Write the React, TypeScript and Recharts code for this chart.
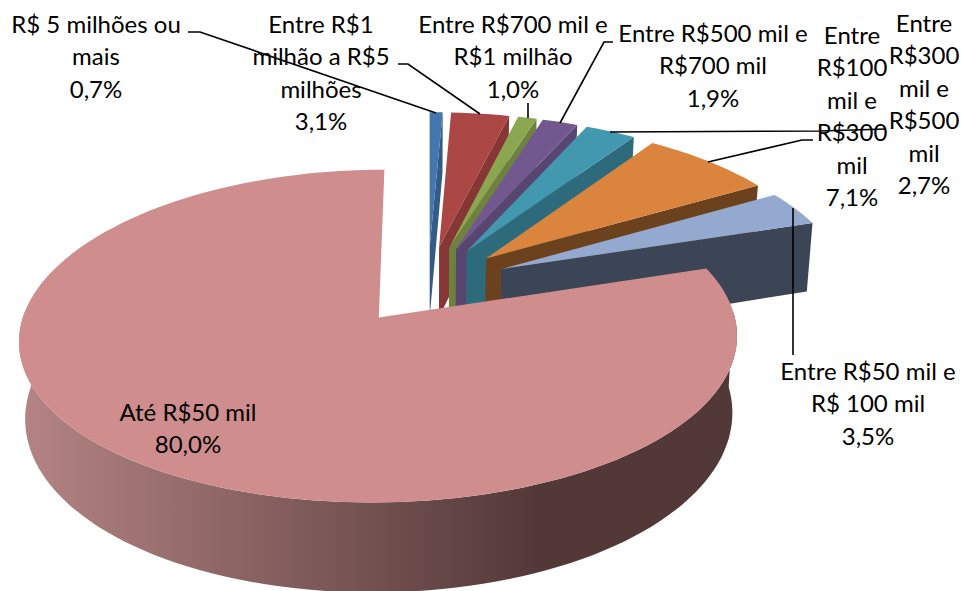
import { PieChart, Pie } from "recharts";

const categories = [
  "R$ 5 milhões ou mais",
  "Entre R$1 milhão a R$5 milhões",
  "Entre R$700 mil e R$1 milhão",
  "Entre R$500 mil e R$700 mil",
  "Entre R$300 mil e R$500 mil",
  "Entre R$100 mil e R$300 mil",
  "Entre R$50 mil e R$ 100 mil",
  "Até R$50 mil",
];
const shares = [0.7, 3.1, 1.0, 1.9, 2.7, 7.1, 3.5, 80.0];
const shareLabels = ["0,7%", "3,1%", "1,0%", "1,9%", "2,7%", "7,1%", "3,5%", "80,0%"];

const topColors = ["#4477ad", "#aa4644", "#8ba650", "#71588f", "#4198af", "#db843d", "#93a9cf", "#cf8e8d"];
const wallColors = ["#345b85", "#863735", "#6d823f", "#584570", "#2c6a7c", "#6c421e", "#3b4556", "url(#pinkWall)"];

// how each label wraps, where its centre sits, first baseline and leader line
const labelLines = [
  ["R$ 5 milhões ou", "mais"],
  ["Entre R$1", "milhão a R$5", "milhões"],
  ["Entre R$700 mil e", "R$1 milhão"],
  ["Entre R$500 mil e", "R$700 mil"],
  ["Entre", "R$300", "mil e", "R$500", "mil"],
  ["Entre", "R$100", "mil e", "R$300", "mil"],
  ["Entre R$50 mil e", "R$ 100 mil"],
  ["Até R$50 mil"],
];
const labelX = [96, 321, 513, 713, 924, 852, 868, 188];
const labelY = [33, 33, 33, 42, 32, 44, 380, 421];
const leaders = [
  "188,32 200,32 436,113",
  "398,64 408,64 480,114",
  "528,103 528,118",
  "613,42 604,42 560,123",
  "610,132 820,131 886,129",
  "708,162 802,140 813,140",
  "793,208 793,355",
  "",
];

const data = categories.map((name, i) => ({ name, share: shares[i] }));

const EXPLODE_U = 0.235;
const EXPLODE_V = 0.25;
const TILT = 0.4528;
const PERSPECTIVE_X = 0.125;
const PERSPECTIVE_Y = 0.109;
const DEPTH = 73;
const rad = Math.PI / 180;

function project(cx: number, cy: number, r: number, u: number, v: number, low: boolean) {
  const sx = 1 / (1 + PERSPECTIVE_X * v);
  const sy = 1 / (1 + PERSPECTIVE_Y * v);
  const x = cx + r * u * sx * (low ? 0.985 : 1);
  const y = cy - r * TILT * v * sy + (low ? DEPTH * Math.pow(sy, 1.5) : 0);
  return `${x.toFixed(1)},${y.toFixed(1)}`;
}

function Slice3D(props: any) {
  const { cx, cy, outerRadius, startAngle, endAngle, index } = props;
  // recharts angles are counter clockwise from east, here clockwise from north
  const a0 = 90 - startAngle;
  const a1 = 90 - endAngle;
  const mid = (a0 + a1) / 2;
  const ou = EXPLODE_U * Math.sin(mid * rad);
  const ov = EXPLODE_V * Math.cos(mid * rad);
  const at = (deg: number, low: boolean) =>
    project(cx, cy, outerRadius, ou + Math.sin(deg * rad), ov + Math.cos(deg * rad), low);
  const apexTop = project(cx, cy, outerRadius, ou, ov, false);
  const apexLow = project(cx, cy, outerRadius, ou, ov, true);
  const sweep = (from: number, to: number) => {
    const out: number[] = [];
    const steps = Math.max(2, Math.ceil((to - from) / 2));
    for (let i = 0; i <= steps; i++) out.push(from + ((to - from) * i) / steps);
    return out;
  };
  const top = [apexTop, ...sweep(a0, a1).map((d) => at(d, false))].join(" ");
  const big = a1 - a0 > 180;
  // the big slice only shows its rim at the front, the small ones their cut face
  const rim = sweep(Math.max(a0, 88), Math.min(a1, 272));
  const wall = big
    ? [...rim.map((d) => at(d, false)), ...[...rim].reverse().map((d) => at(d, true))].join(" ")
    : [apexTop, at(a1, false), at(a1, true), apexLow].join(" ");
  return (
    <g>
      <defs>
        <linearGradient id="pinkWall" gradientUnits="userSpaceOnUse" x1="20" y1="0" x2="540" y2="0">
          <stop offset="0" stopColor="#b58484" />
          <stop offset="0.55" stopColor="#7f5a5a" />
          <stop offset="1" stopColor="#533838" />
        </linearGradient>
      </defs>
      <polygon points={wall} fill={wallColors[index]} />
      <polygon points={top} fill={topColors[index]} />
    </g>
  );
}

function SliceLabel(props: any) {
  const { index } = props;
  const lines = [...labelLines[index], shareLabels[index]];
  return (
    <g>
      {leaders[index] && <polyline points={leaders[index]} fill="none" stroke="#000" strokeWidth={1.6} />}
      <text
        x={labelX[index]}
        y={labelY[index]}
        textAnchor="middle"
        fontFamily="Lato, sans-serif"
        fontSize={24}
        fill="#000"
        stroke="none"
      >
        {lines.map((line, i) => (
          <tspan key={i} x={labelX[index]} dy={i === 0 ? 0 : 32.4}>
            {line}
          </tspan>
        ))}
      </text>
    </g>
  );
}

export default function App() {
  return (
    <div style={{ position: "absolute", left: 0, top: 0, width: 961, height: 591, background: "#fff" }}>
      <PieChart width={961} height={591} margin={{ top: 0, right: 0, bottom: 0, left: 0 }}>
        <Pie
          data={data}
          dataKey="share"
          nameKey="name"
          cx={428}
          cy={285}
          outerRadius={347}
          startAngle={90}
          endAngle={-270}
          stroke="none"
          shape={Slice3D}
          label={SliceLabel}
          labelLine={false}
          isAnimationActive={false}
        />
      </PieChart>
    </div>
  );
}
